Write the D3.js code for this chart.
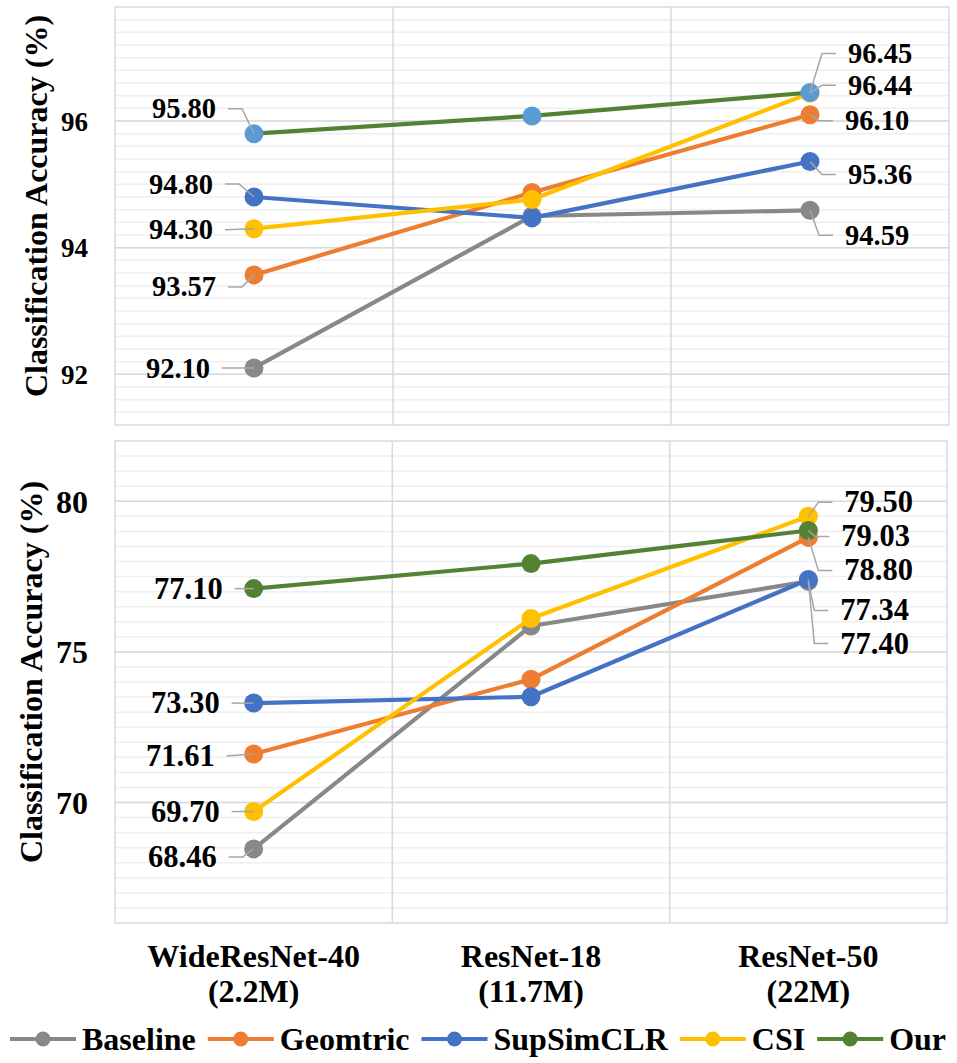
<!DOCTYPE html>
<html><head><meta charset="utf-8">
<script src="https://cdn.jsdelivr.net/npm/d3@7"></script>
<style>
body{margin:0;background:#fff}
svg{display:block}
text{font-family:"Liberation Serif","Times New Roman",serif;font-weight:bold;fill:#000}
</style>
</head><body>
<svg id="chart" width="957" height="1063"></svg>
<script>
// ---------- data ----------
const categories = ["WideResNet-40", "ResNet-18", "ResNet-50"];
const categorySizes = ["(2.2M)", "(11.7M)", "(22M)"];
const seriesNames = ["Baseline", "Geomtric", "SupSimCLR", "CSI", "Our"];

const topBaseline  = [92.10, 94.50, 94.59];
const topGeometric = [93.57, 94.87, 96.10];
const topSupSimCLR = [94.80, 94.47, 95.36];
const topCSI       = [94.30, 94.76, 96.44];
const topOur       = [95.80, 96.08, 96.45];

const botBaseline  = [68.46, 75.86, 77.34];
const botGeometric = [71.61, 74.09, 78.80];
const botSupSimCLR = [73.30, 73.51, 77.40];
const botCSI       = [69.70, 76.11, 79.50];
const botOur       = [77.10, 77.93, 79.03];

const topTicks = [92, 94, 96];
const botTicks = [70, 75, 80];
const axisTitle = "Classification Accuracy (%)";

// ---------- styles / layout ----------
const lineColors   = ["#888888", "#ED7D31", "#4472C4", "#FFC000", "#548235"];
const topMarkerColors = ["#888888", "#ED7D31", "#4472C4", "#FFC000", "#5B9BD5"];
const botMarkerColors = lineColors;

// label offsets [dx, dy] from marker (first point, last point) per series
const topLabelOffsets = [
  [[-44, 0], [35, 25]],
  [[-38, 12], [35, 6]],
  [[-41, -13], [38, 13]],
  [[-41, 1], [38, -8]],
  [[-38, -25], [38, -39]]
];
const botLabelOffsets = [
  [[-37, 8], [32, 29]],
  [[-39, 2], [36, 33]],
  [[-34, 0], [32, 64]],
  [[-34, 0], [36, -14]],
  [[-31, 0], [33, 6]]
];

const panels = [
  {series:[topBaseline, topGeometric, topSupSimCLR, topCSI, topOur], ticks: topTicks,
   domain:[91.2, 97.8], major:2, minor:0.2, x0:115, x1:949, y0:7, y1:425,
   tickFont:27, labelFont:28.5, titleX:36, markers: topMarkerColors, offsets: topLabelOffsets},
  {series:[botBaseline, botGeometric, botSupSimCLR, botCSI, botOur], ticks: botTicks,
   domain:[66, 82], major:5, minor:0.5, x0:115, x1:947, y0:441, y1:923,
   tickFont:32, labelFont:30.5, titleX:31, markers: botMarkerColors, offsets: botLabelOffsets}
];

const svg = d3.select("#chart");

panels.forEach(p => {
  const x = d3.scaleBand().domain(categories).range([p.x0, p.x1]);
  const y = d3.scaleLinear().domain(p.domain).range([p.y1, p.y0]);
  const g = svg.append("g");

  // minor gridlines
  const nMinor = Math.round((p.domain[1] - p.domain[0]) / p.minor);
  const minorVals = d3.range(1, nMinor).map(i => +(p.domain[0] + i * p.minor).toFixed(3));
  g.selectAll(".minor").data(minorVals).join("line")
    .attr("x1", p.x0).attr("x2", p.x1)
    .attr("y1", d => y(d)).attr("y2", d => y(d))
    .attr("stroke", "#EFEFEF").attr("stroke-width", 1.5);
  // major gridlines
  g.selectAll(".major").data(p.ticks).join("line")
    .attr("x1", p.x0).attr("x2", p.x1)
    .attr("y1", d => y(d)).attr("y2", d => y(d))
    .attr("stroke", "#D9D9D9").attr("stroke-width", 1.5);
  // vertical category separators
  g.selectAll(".vgrid").data(categories.slice(1)).join("line")
    .attr("x1", d => x(d)).attr("x2", d => x(d))
    .attr("y1", p.y0).attr("y2", p.y1)
    .attr("stroke", "#D9D9D9").attr("stroke-width", 1.5);
  // border
  g.append("rect").attr("x", p.x0).attr("y", p.y0)
    .attr("width", p.x1 - p.x0).attr("height", p.y1 - p.y0)
    .attr("fill", "none").attr("stroke", "#D9D9D9").attr("stroke-width", 1.5);

  // y tick labels
  const yAxis = d3.axisLeft(y).tickValues(p.ticks).tickSize(0).tickPadding(27).tickFormat(d3.format("d"));
  const ya = g.append("g").attr("transform", `translate(${p.x0},0)`).call(yAxis);
  ya.select(".domain").remove();
  ya.selectAll("text").attr("font-size", p.tickFont)
    .style("font-family", '"Liberation Serif","Times New Roman",serif').style("font-weight", "bold").attr("fill", "#000")
    .attr("dy", null).attr("dominant-baseline", "central");

  // axis title
  g.append("text")
    .attr("transform", `translate(${p.titleX},${(p.y0 + p.y1) / 2 - 10}) rotate(-90)`)
    .attr("text-anchor", "middle").attr("dominant-baseline", "central")
    .attr("font-size", 32).text(axisTitle);

  const cx = c => x(c) + x.bandwidth() / 2;
  const line = d3.line().x((d, i) => cx(categories[i])).y(d => y(d));

  // series
  p.series.forEach((vals, si) => {
    g.append("path").attr("d", line(vals)).attr("fill", "none")
      .attr("stroke", lineColors[si]).attr("stroke-width", 4.2).attr("stroke-linejoin", "round");
    g.selectAll(null).data(vals).join("circle")
      .attr("cx", (d, i) => cx(categories[i])).attr("cy", d => y(d)).attr("r", 9.5)
      .attr("fill", p.markers[si]);
  });

  // data labels with leader lines
  p.series.forEach((vals, si) => {
    [0, vals.length - 1].forEach((idx, k) => {
      const mx = cx(categories[idx]), my = y(vals[idx]);
      const [dx, dy] = p.offsets[si][k];
      const lx = mx + dx, ly = my + dy;
      const dir = dx < 0 ? 1 : -1; // direction toward marker
      const start = lx + dir * 12;
      let pts;
      if (Math.abs(dy) < 4) {
        pts = [[start, ly], [mx, my]];
      } else {
        pts = [[start, ly], [start + dir * 14, ly], [mx, my]];
      }
      g.append("path").attr("d", d3.line()(pts)).attr("fill", "none")
        .attr("stroke", "#A6A6A6").attr("stroke-width", 1.5);
      g.append("text").attr("x", lx).attr("y", ly)
        .attr("text-anchor", dx < 0 ? "end" : "start").attr("dominant-baseline", "central")
        .attr("font-size", p.labelFont).text(vals[idx].toFixed(2));
    });
  });

  // category labels under bottom panel
  if (p === panels[1]) {
    const cg = svg.append("g");
    categories.forEach((c, i) => {
      cg.append("text").attr("x", cx(c)).attr("y", 956).attr("text-anchor", "middle")
        .attr("dominant-baseline", "central").attr("font-size", 32).text(c);
      cg.append("text").attr("x", cx(c)).attr("y", 991).attr("text-anchor", "middle")
        .attr("dominant-baseline", "central").attr("font-size", 32).text(categorySizes[i]);
    });
  }
});

// legend
const lg = svg.append("g");
let lx = 10;
const ly = 1039;
seriesNames.forEach((name, i) => {
  lg.append("line").attr("x1", lx).attr("x2", lx + 66).attr("y1", ly).attr("y2", ly)
    .attr("stroke", lineColors[i]).attr("stroke-width", 4.2);
  lg.append("circle").attr("cx", lx + 33).attr("cy", ly).attr("r", 7.5).attr("fill", lineColors[i]);
  const t = lg.append("text").attr("x", lx + 72).attr("y", ly).attr("dominant-baseline", "central")
    .attr("font-size", 32).text(name);
  lx += 72 + t.node().getComputedTextLength() + 12;
});
</script>
</body></html>
